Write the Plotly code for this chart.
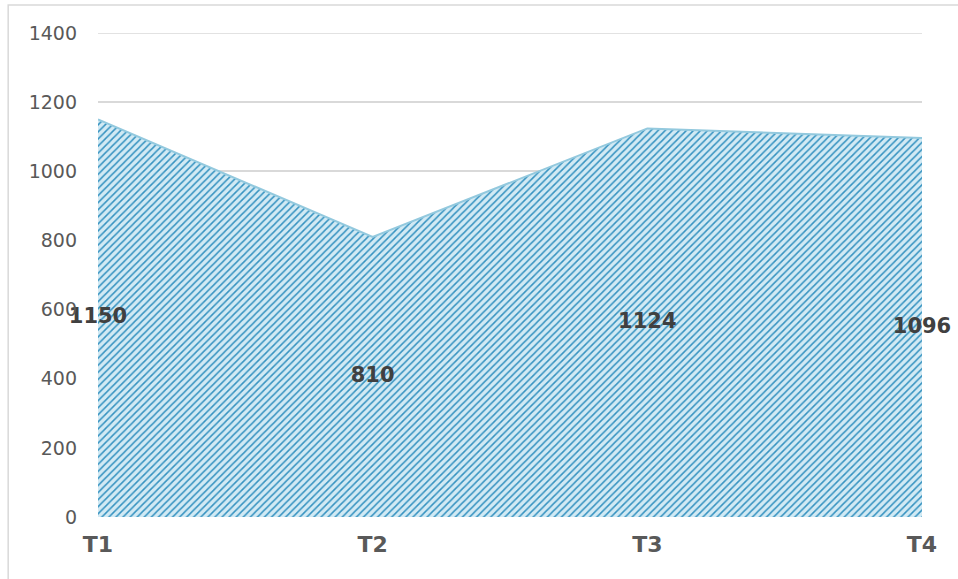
import plotly.graph_objects as go

categories = ["T1", "T2", "T3", "T4"]
values = [1150, 810, 1124, 1096]
y_ticks = [0, 200, 400, 600, 800, 1000, 1200, 1400]

x_pos = list(range(len(categories)))

fig = go.Figure()
fig.add_trace(go.Scatter(
    x=x_pos, y=values, mode="lines", fill="tozeroy",
    line=dict(color="#93c9de", width=2),
    fillcolor="#d2eaf4",
    fillpattern=dict(shape="/", fgcolor="#3592c0", bgcolor="#d2eaf4",
                     size=5, solidity=0.3, fillmode="replace"),
    hoverinfo="skip", showlegend=False,
))
# data labels at half height
fig.add_trace(go.Scatter(
    x=x_pos, y=[v / 2 for v in values], mode="text",
    text=[str(v) for v in values], textposition="middle center",
    textfont=dict(family="DejaVu Sans", size=21, color="#404040", weight="bold"),
    hoverinfo="skip", showlegend=False, cliponaxis=False,
))

fig.update_layout(
    width=958, height=579,
    margin=dict(l=98, r=36, t=33, b=62),
    paper_bgcolor="white", plot_bgcolor="white",
    font=dict(family="DejaVu Sans", color="#595959"),
    xaxis=dict(
        range=[0, len(categories) - 1], tickvals=x_pos, ticktext=categories,
        showgrid=False, zeroline=False, showline=False,
        tickfont=dict(size=22, color="#595959", weight="bold"),
        ticks="", ticklabelstandoff=12,
    ),
    yaxis=dict(
        range=[0, 1400], tickvals=y_ticks,
        showgrid=True, gridcolor="#d9d9d9", gridwidth=1.5,
        zeroline=False, showline=False,
        tickfont=dict(size=19, color="#595959"),
        ticks="", ticklabelstandoff=20,
    ),
    shapes=[
        dict(type="rect", xref="paper", yref="paper",
             x0=-0.109, x1=1.2, y0=-0.3, y1=1.058,
             line=dict(color="#d9d9d9", width=1.5), layer="below"),
        dict(type="line", xref="paper", yref="y",
             x0=0, x1=1, y0=y_ticks[-1], y1=y_ticks[-1],
             line=dict(color="#d9d9d9", width=1.5), layer="below"),
    ],
)

fig.write_html("out.html", config={"displayModeBar": False},
               post_script="document.body.style.margin='0';document.body.style.overflow='hidden';")
